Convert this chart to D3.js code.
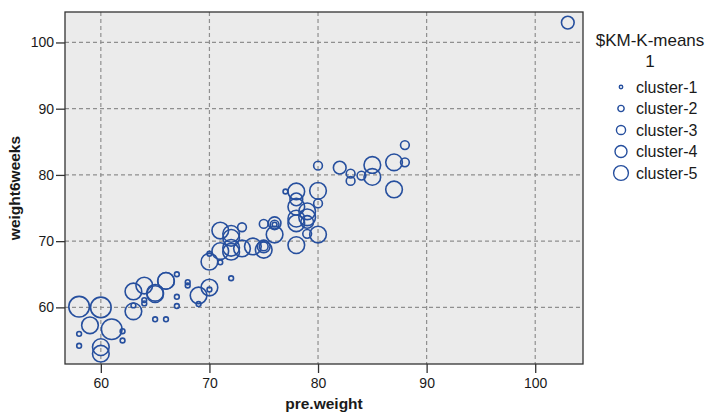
<!DOCTYPE html>
<html>
<head>
<meta charset="utf-8">
<script src="https://cdn.jsdelivr.net/npm/d3@7/dist/d3.min.js"></script>
<style>
  body { margin: 0; background: #fff; }
  text { font-family: Arial, "Liberation Sans", sans-serif; fill: #1a1a1a; }
  .tick text { font-size: 14px; }
  .axis-title { font-size: 15.5px; font-weight: bold; }
</style>
</head>
<body>
<svg id="viz" width="714" height="418"></svg>
<script>
// pre.weight / weight6weeks / K-means cluster per person
var preWeight = [60,58,59,61,60,60,58,58,62,62,63,64,63,63,64,64,65,65,66,66,65,66,67,67,67,68,68,69,69,70,70,70,70,71,72,
                 71,72,72,72,71,73,73,74,75,75,75,75,76,76,76,76,72,77,78,78,78,78,78,78,79,79,79,79,80,80,80,80,82,83,83,84,85,85,87,87,88,88,103]
var weight6weeks = [60,60.1,57.3,56.7,54,53,54.2,56,55,56.4,62.4,63.3,59.4,60.3,61.1,60.6,62.2,62,64,64,58.2,58.2,65,61.6,60.2,63.8,63.3,61.8,60.5,63,62.7,66.9,68.1,66.8,64.4,
                    71.6,70.5,69,68.4,68.5,72.1,68.9,69.2,69.2,69.2,68.7,72.6,72.7,72.5,72.5,71,71.1,77.5,77.5,76.3,75.2,73.4,72.7,69.4,74.5,73.6,72.9,71.1,81.4,77.6,75.7,71,81.1,80.2,79.1,79.9,81.5,79.7,81.9,77.8,81.9,84.5,103]
var cluster = [5,5,4,5,4,4,1,1,1,1,4,4,4,1,1,1,4,4,4,4,1,1,1,1,1,1,1,4,1,4,1,4,1,1,1,
               4,4,4,4,4,2,4,4,2,3,4,2,3,1,2,4,4,1,4,3,4,4,4,4,4,4,3,2,2,4,2,4,3,2,2,2,4,4,4,4,2,2,3]
var clusterNames = ["cluster-1","cluster-2","cluster-3","cluster-4","cluster-5"]
var xTicks = [60,70,80,90,100]
var yTicks = [60,70,80,90,100]

var svg = d3.select("#viz")
var pLeft = 65, pRight = 583, pTop = 12, pBottom = 364
var blue = "#264f9e"

var x = d3.scaleLinear().domain([56.7, 104.4]).range([pLeft, pRight])
var y = d3.scaleLinear().domain([51.45, 104.6]).range([pBottom, pTop])
var r = d3.scaleLinear().domain([1, 5]).range([2.4, 10.3])

// panel
svg.append("rect")
  .attr("x", pLeft).attr("y", pTop)
  .attr("width", pRight-pLeft).attr("height", pBottom-pTop)
  .style("fill", "#ebebeb")

// dashed grid
svg.selectAll(".vgrid").data(xTicks).enter().append("line")
  .attr("x1", d=>x(d)).attr("x2", d=>x(d))
  .attr("y1", pTop).attr("y2", pBottom)
  .style("stroke", "#8f8f8f").style("stroke-width", 1.2).style("stroke-dasharray", "4,3")
svg.selectAll(".hgrid").data(yTicks).enter().append("line")
  .attr("y1", d=>y(d)).attr("y2", d=>y(d))
  .attr("x1", pLeft).attr("x2", pRight)
  .style("stroke", "#8f8f8f").style("stroke-width", 1.2).style("stroke-dasharray", "4,3")

// points
svg.append("g").selectAll("circle")
  .data(preWeight.map((d,i)=>({x:d, y:weight6weeks[i], c:cluster[i]})))
  .enter().append("circle")
  .attr("cx", d=>x(d.x)).attr("cy", d=>y(d.y)).attr("r", d=>r(d.c))
  .style("fill", "none").style("stroke", blue).style("stroke-width", 1.6)

// frame
svg.append("rect")
  .attr("x", pLeft).attr("y", pTop)
  .attr("width", pRight-pLeft).attr("height", pBottom-pTop)
  .style("fill", "none").style("stroke", "#333").style("stroke-width", 1.3)

// axes
var xAxis = svg.append("g").attr("transform", `translate(0,${pBottom})`)
  .call(d3.axisBottom(x).tickValues(xTicks).tickSize(9).tickPadding(5))
var yAxis = svg.append("g").attr("transform", `translate(${pLeft},0)`)
  .call(d3.axisLeft(y).tickValues(yTicks).tickSize(9).tickPadding(2))
xAxis.select(".domain").remove()
yAxis.select(".domain").remove()
svg.selectAll(".tick line").style("stroke", "#333").style("stroke-width", 1.3)

svg.append("text").attr("class", "axis-title")
  .attr("x", (pLeft+pRight)/2).attr("y", 409)
  .attr("text-anchor", "middle").text("pre.weight")
svg.append("text").attr("class", "axis-title")
  .attr("transform", `translate(20,${(pTop+pBottom)/2}) rotate(-90)`)
  .attr("text-anchor", "middle").text("weight6weeks")

// legend
var lg = svg.append("g")
lg.append("text").attr("x", 650).attr("y", 46).attr("text-anchor", "middle")
  .style("font-size", "17px").text("$KM-K-means")
lg.append("text").attr("x", 650).attr("y", 67).attr("text-anchor", "middle")
  .style("font-size", "17px").text("1")

var item = lg.selectAll(".item").data(clusterNames).enter().append("g")
  .attr("transform", (d,i)=>`translate(621,${87+i*21.5})`)
item.append("circle").attr("r", (d,i)=>r(i+1)*0.72)
  .style("fill", "none").style("stroke", blue).style("stroke-width", 1.4)
item.append("text").attr("x", 15).attr("dy", "0.35em")
  .style("font-size", "16px").text(d=>d)
</script>
</body>
</html>
